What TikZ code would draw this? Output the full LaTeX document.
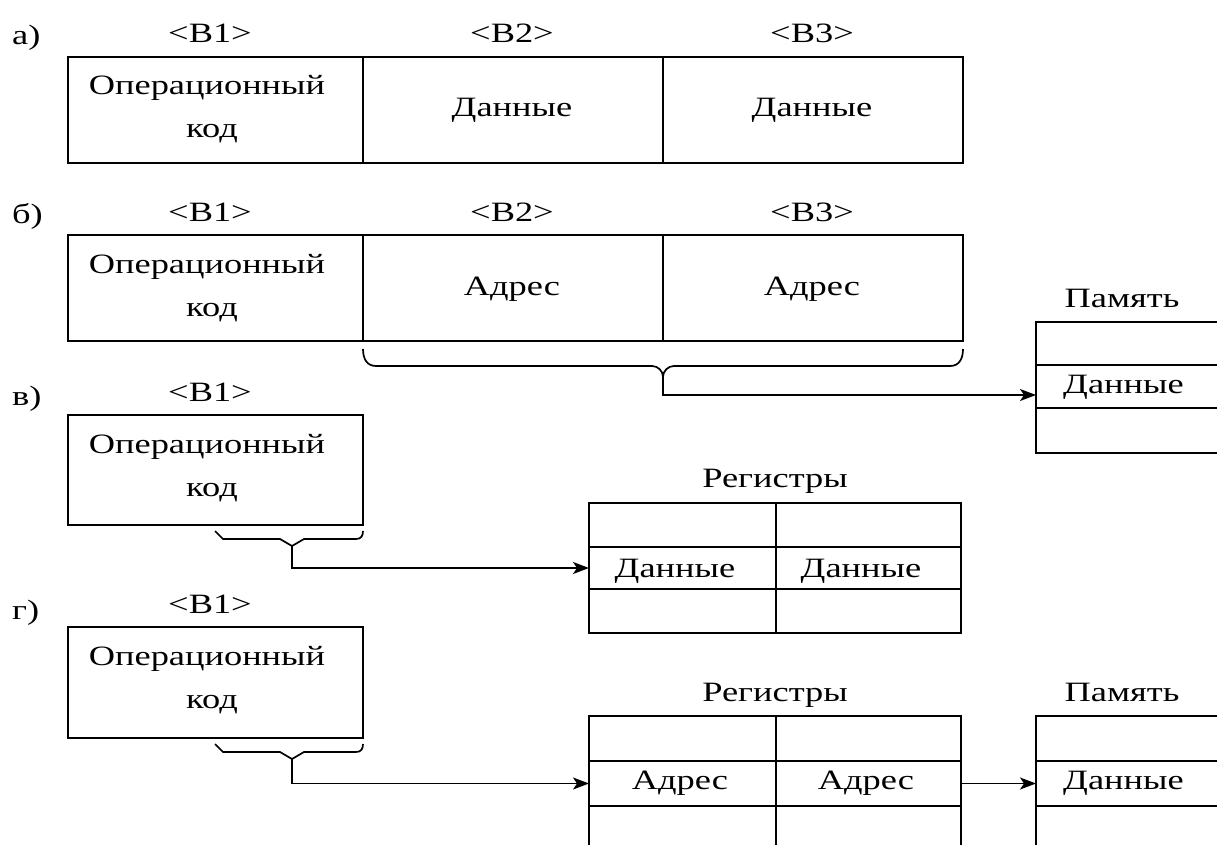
\documentclass[tikz,border=0pt]{standalone}
\usepackage{fontspec}
\setmainfont[FakeStretch=1.3]{Liberation Serif}
\usetikzlibrary{arrows.meta}
\begin{document}
\begin{tikzpicture}[x=1pt,y=-1pt,
  cell/.style={draw, line width=1.7pt, rectangle, inner sep=0pt, outer sep=0pt},
  txt/.style={font=\fontsize{28}{34}\selectfont, inner sep=0pt, anchor=base},
  lbl/.style={font=\fontsize{28}{34}\selectfont, inner sep=0pt, anchor=base west},
  conn/.style={line width=1.7pt, -{Stealth[length=16pt,width=12pt,inset=4pt]}},
  bracepath/.style={line width=1.7pt}]
\useasboundingbox (0,0) rectangle (1217,845);
\clip (0,0) rectangle (1217,845);
\fill[white] (0,0) rectangle (1217,845);

% ---------- a)
\node[lbl] (la) at (12,45) {а)};
\node[txt] (ab1) at (210,43) {<B1>};
\node[txt] (ab2) at (512,43) {<B2>};
\node[txt] (ab3) at (812,43) {<B3>};
\node[cell, minimum width=295pt, minimum height=106pt] (a1) at (215.5,110) {};
\node[cell, minimum width=300pt, minimum height=106pt] (a2) at (513,110) {};
\node[cell, minimum width=300pt, minimum height=106pt] (a3) at (813,110) {};
\node[txt] (a1t) at (207,95) {Операционный};
\node[txt] (a1u) at (212,138) {код};
\node[txt] (a2t) at (512,117) {Данные};
\node[txt] (a3t) at (812,117) {Данные};

% ---------- b)
\node[lbl] (lb) at (12,223) {б)};
\node[txt] (bb1) at (210,221) {<B1>};
\node[txt] (bb2) at (512,221) {<B2>};
\node[txt] (bb3) at (812,221) {<B3>};
\node[cell, minimum width=295pt, minimum height=106pt] (b1) at (215.5,288) {};
\node[cell, minimum width=300pt, minimum height=106pt] (b2) at (513,288) {};
\node[cell, minimum width=300pt, minimum height=106pt] (b3) at (813,288) {};
\node[txt] (b1t) at (207,273) {Операционный};
\node[txt] (b1u) at (212,316) {код};
\node[txt] (b2t) at (512,295) {Адрес};
\node[txt] (b3t) at (812,295) {Адрес};
\draw[bracepath] (363,349) .. controls (363,359) and (367,366) .. (376,366) -- (652,366)
  .. controls (658,366) and (663,371) .. (663,377)
  .. controls (663,371) and (668,366) .. (674,366) -- (950,366)
  .. controls (959,366) and (963,359) .. (963,349);
\coordinate (tipB) at (663,377);
\coordinate (bendB) at (663,395);

% memory 1
\node[txt] (m1lab) at (1122,307) {Память};
\node[cell, minimum width=204pt, minimum height=43pt] (m1a) at (1138,343.5) {};
\node[cell, minimum width=204pt, minimum height=43pt] (m1b) at (1138,386.5) {};
\node[cell, minimum width=204pt, minimum height=45pt] (m1c) at (1138,430.5) {};
\node[lbl] (m1t) at (1063,393) {Данные};
\draw[conn] (tipB) -- (bendB) -- (bendB -| m1b.west);

% ---------- v)
\node[lbl] (lv) at (12,405) {в)};
\node[txt] (vb1) at (210,401) {<B1>};
\node[cell, minimum width=295pt, minimum height=110pt] (v1) at (215.5,470) {};
\node[txt] (v1t) at (207,453) {Операционный};
\node[txt] (v1u) at (212,496) {код};
\draw[bracepath] (215,531) -- (223,539) -- (280,539) -- (292,546) -- (304,539) -- (356,539)
  .. controls (361,539) and (363,536) .. (363,531);
\coordinate (tipC) at (292,546);

% registers 1
\node[txt] (r1lab) at (775,487) {Регистры};
\node[cell, minimum width=187pt, minimum height=44pt] (r1a1) at (682.5,525) {};
\node[cell, minimum width=185pt, minimum height=44pt] (r1a2) at (868.5,525) {};
\node[cell, minimum width=187pt, minimum height=42pt] (r1b1) at (682.5,568) {};
\node[cell, minimum width=185pt, minimum height=42pt] (r1b2) at (868.5,568) {};
\node[cell, minimum width=187pt, minimum height=44pt] (r1c1) at (682.5,611) {};
\node[cell, minimum width=185pt, minimum height=44pt] (r1c2) at (868.5,611) {};
\node[txt] (r1t1) at (675,577) {Данные};
\node[txt] (r1t2) at (861,577) {Данные};
\draw[conn] (tipC) |- (r1b1.west);

% ---------- g)
\node[lbl] (lg) at (12,619) {г)};
\node[txt] (gb1) at (210,613) {<B1>};
\node[cell, minimum width=295pt, minimum height=111pt] (g1) at (215.5,682.5) {};
\node[txt] (g1t) at (207,665) {Операционный};
\node[txt] (g1u) at (212,708) {код};
\draw[bracepath] (215,744) -- (223,752) -- (280,752) -- (292,759) -- (304,752) -- (356,752)
  .. controls (361,752) and (363,749) .. (363,744);
\coordinate (tipD) at (292,759);

% registers 2
\node[txt] (r2lab) at (775,701) {Регистры};
\node[cell, minimum width=187pt, minimum height=45pt] (r2a1) at (682.5,738.5) {};
\node[cell, minimum width=185pt, minimum height=45pt] (r2a2) at (868.5,738.5) {};
\node[cell, minimum width=187pt, minimum height=45pt] (r2b1) at (682.5,783.5) {};
\node[cell, minimum width=185pt, minimum height=45pt] (r2b2) at (868.5,783.5) {};
\node[cell, minimum width=187pt, minimum height=54pt] (r2c1) at (682.5,833) {};
\node[cell, minimum width=185pt, minimum height=54pt] (r2c2) at (868.5,833) {};
\node[txt] (r2t1) at (680,789) {Адрес};
\node[txt] (r2t2) at (866,789) {Адрес};
\draw[conn] (tipD) |- (r2b1.west);

% memory 2
\node[txt] (m2lab) at (1122,701) {Память};
\node[cell, minimum width=204pt, minimum height=45pt] (m2a) at (1138,738.5) {};
\node[cell, minimum width=204pt, minimum height=45pt] (m2b) at (1138,783.5) {};
\node[cell, minimum width=204pt, minimum height=54pt] (m2c) at (1138,833) {};
\node[lbl] (m2t) at (1063,789) {Данные};
\draw[conn] (r2b2.east) -- (m2b.west);
\end{tikzpicture}
\end{document}
